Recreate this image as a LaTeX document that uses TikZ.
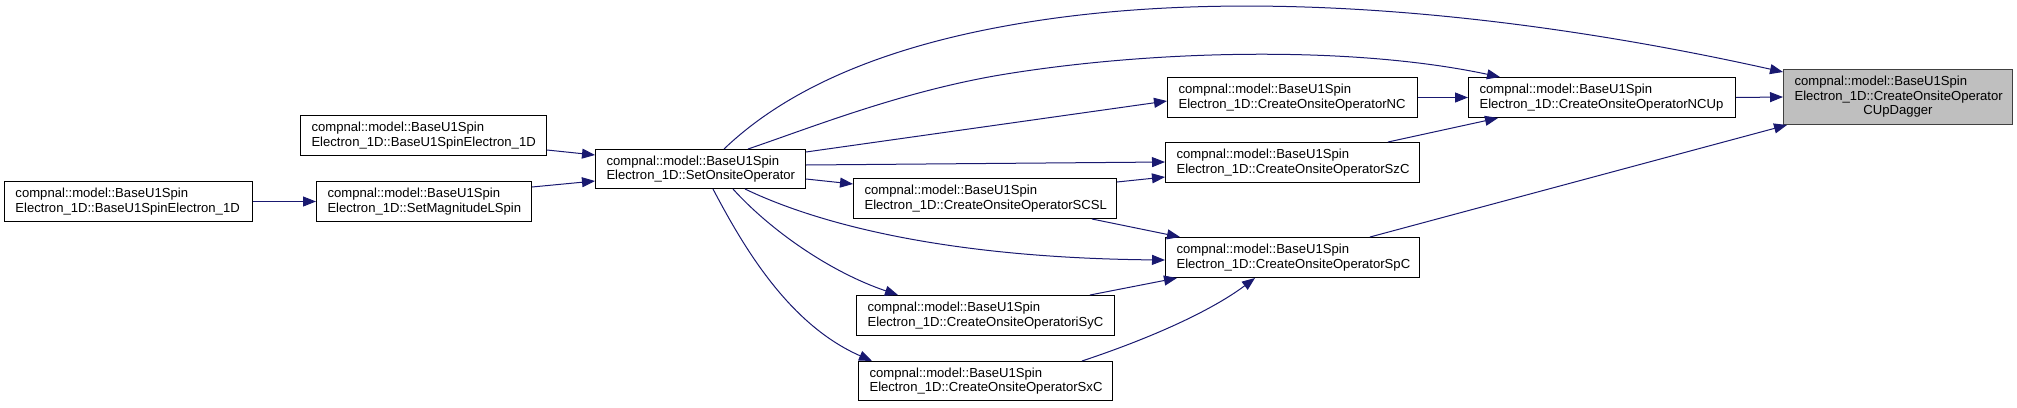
\documentclass[tikz,border=0pt]{standalone}
\usepackage{fontspec}
\setmainfont{Liberation Sans}
\usetikzlibrary{arrows.meta,calc}
\definecolor{edgeblue}{RGB}{25,25,112}
\definecolor{focusfill}{RGB}{191,191,191}
\definecolor{focusdraw}{RGB}{64,64,64}
\begin{document}
\begin{tikzpicture}[x=1pt,y=-1pt,
  box/.style={draw=black, fill=white, line width=1pt, anchor=north west,
    inner xsep=11pt, inner ysep=0pt, align=left,
    font=\fontsize{13.1}{14.4}\selectfont},
  focus/.style={box, fill=focusfill, draw=focusdraw},
  link/.style={draw=edgeblue, line width=1pt, -{Triangle[length=13pt,width=10pt]}}]
\useasboundingbox (0,0) rectangle (2017,407);

\node[box, text width=226pt, minimum height=40pt] (l0) at (4,181) {compnal::model::BaseU1Spin\\Electron\_1D::BaseU1SpinElectron\_1D};
\node[box, text width=224pt, minimum height=40pt] (ctor) at (300,115) {compnal::model::BaseU1Spin\\Electron\_1D::BaseU1SpinElectron\_1D};
\node[box, text width=193pt, minimum height=40pt] (setmag) at (316,181) {compnal::model::BaseU1Spin\\Electron\_1D::SetMagnitudeLSpin};
\node[box, text width=188pt, minimum height=39pt] (seton) at (595,149) {compnal::model::BaseU1Spin\\Electron\_1D::SetOnsiteOperator};
\node[box, text width=241pt, minimum height=40pt] (scsl) at (853,178) {compnal::model::BaseU1Spin\\Electron\_1D::CreateOnsiteOperatorSCSL};
\node[box, text width=236pt, minimum height=40pt] (isyc) at (856,295) {compnal::model::BaseU1Spin\\Electron\_1D::CreateOnsiteOperatoriSyC};
\node[box, text width=232pt, minimum height=39pt] (sxc) at (858,361) {compnal::model::BaseU1Spin\\Electron\_1D::CreateOnsiteOperatorSxC};
\node[box, text width=228pt, minimum height=40pt] (nc) at (1167,77) {compnal::model::BaseU1Spin\\Electron\_1D::CreateOnsiteOperatorNC};
\node[box, text width=232pt, minimum height=40pt] (szc) at (1165,142) {compnal::model::BaseU1Spin\\Electron\_1D::CreateOnsiteOperatorSzC};
\node[box, text width=232pt, minimum height=40pt] (spc) at (1165,237) {compnal::model::BaseU1Spin\\Electron\_1D::CreateOnsiteOperatorSpC};
\node[box, text width=245pt, minimum height=40pt] (ncup) at (1468,77) {compnal::model::BaseU1Spin\\Electron\_1D::CreateOnsiteOperatorNCUp};
\node[focus, text width=207pt, minimum height=55pt] (cup) at (1783,69) {compnal::model::BaseU1Spin\\Electron\_1D::CreateOnsiteOperator\par{\centering CUpDagger\par}};

% straight connectors
\draw[link] (l0.east) -- (setmag.west);
\draw[link] ($(ctor.north east)+(0,35)$) -- ($(seton.north west)+(0,6)$);
\draw[link] ($(setmag.north east)+(0,6)$) -- ($(seton.north west)+(0,32)$);
\draw[link] ($(seton.north east)+(0,30)$) -- ($(scsl.north west)+(0,6)$);
\draw[link] ($(seton.north east)+(0,16)$) -- ($(szc.north west)+(0,20)$);
\draw[link] ($(seton.north east)+(0,3)$) -- ($(nc.north west)+(0,24)$);
\draw[link] ($(scsl.south west)+(239,0)$) -- ($(spc.north west)+(15,0)$);
\draw[link] ($(isyc.north west)+(234,0)$) -- ($(spc.south west)+(12,0)$);
\draw[link] ($(scsl.north east)+(0,4)$) -- ($(szc.north west)+(0,35)$);
\draw[link] (nc.east) -- (ncup.west);
\draw[link] ($(szc.north west)+(223,0)$) -- ($(ncup.south west)+(30,0)$);
\draw[link] (ncup.east) -- ($(cup.north west)+(0,28)$);
\draw[link] ($(spc.north west)+(205,0)$) -- ($(cup.south west)+(4,0)$);

% curved connectors
\draw[link] ($(seton.north west)+(129,0)$) .. controls (770,105) and (850,55) .. (1000,27)
  .. controls (1250,-20) and (1550,20) .. ($(cup.north west)+(0,3)$);
\draw[link] ($(seton.north west)+(153,0)$) .. controls (810,128) and (900,92) .. (1000,75)
  .. controls (1150,50) and (1350,45) .. ($(ncup.north west)+(32,0)$);
\draw[link] ($(seton.south west)+(150,0)$) .. controls (820,225) and (950,258) .. ($(spc.north west)+(0,23)$);
\draw[link] ($(seton.south west)+(138,0)$) .. controls (770,230) and (830,272) .. ($(isyc.north west)+(42,0)$);
\draw[link] ($(seton.south west)+(118,0)$) .. controls (745,250) and (790,325) .. ($(sxc.north west)+(14,0)$);
\draw[link] ($(sxc.north west)+(224,0)$) .. controls (1160,335) and (1215,308) .. ($(spc.south west)+(90,0)$);
\end{tikzpicture}
\end{document}
